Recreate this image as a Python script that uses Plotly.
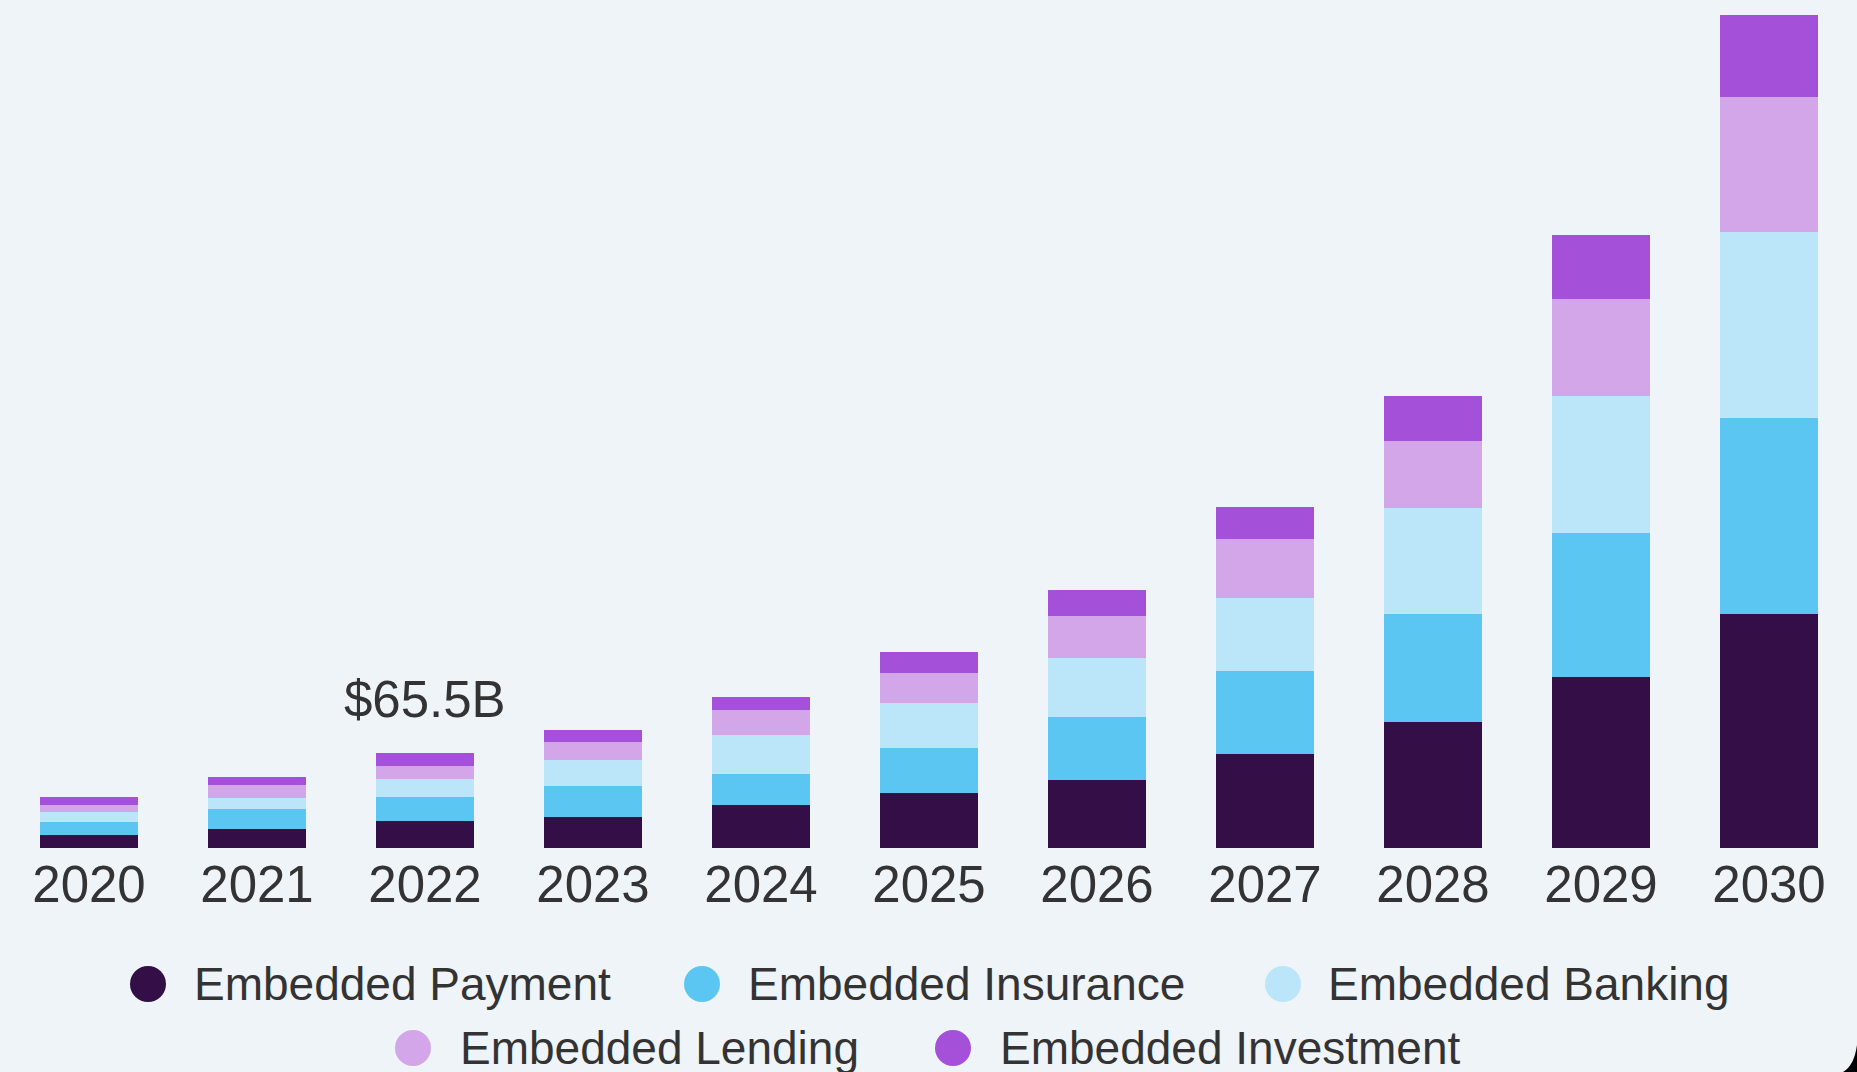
import plotly.graph_objects as go

years = ["2020", "2021", "2022", "2023", "2024", "2025", "2026", "2027", "2028", "2029", "2030"]
series_names = ["Embedded Payment", "Embedded Insurance", "Embedded Banking",
                "Embedded Lending", "Embedded Investment"]
payment = [8.7, 13.3, 18.4, 21.4, 29.6, 37.9, 47.2, 64.8, 86.9, 117.9, 161.3]
insurance = [9.2, 13.8, 16.8, 21.6, 21.6, 31.0, 43.4, 57.2, 74.5, 99.3, 135.1]
banking = [6.9, 7.6, 12.1, 17.4, 26.4, 31.0, 40.7, 50.3, 73.1, 94.5, 128.2]
lending = [5.0, 9.0, 9.2, 12.7, 17.4, 20.7, 29.0, 40.7, 46.2, 66.9, 93.1]
investment = [5.7, 5.3, 9.0, 8.5, 9.2, 14.9, 17.9, 22.1, 31.0, 44.1, 56.5]
colors = ["#330E47", "#5BC6F2", "#BBE6FA", "#D3A6EA", "#A450D8"]
callout_year = "2022"
callout_text = "$65.5B"

BG = "#EFF4F9"
TXT = "#333333"
FONT = "Liberation Sans, Arial, sans-serif"

all_series = [payment, insurance, banking, lending, investment]

fig = go.Figure()
for name, vals, col in zip(series_names, all_series, colors):
    fig.add_trace(go.Bar(x=years, y=vals, name=name, marker=dict(color=col, line=dict(width=0)),
                         showlegend=False))

# callout annotation above 2022 bar (category index avoids numeric-string ambiguity)
idx = years.index(callout_year)
total = sum(s[idx] for s in all_series)
fig.add_annotation(x=idx, y=total, text=callout_text, showarrow=False,
                   yanchor="middle", yshift=54, font=dict(size=51, color=TXT, family=FONT))

# layout geometry (pixels)
W_PX, H_PX = 1857, 1072
ML, MR, MT, MB = 5, 4, 7, 224
plot_w = W_PX - ML - MR
plot_h = H_PX - MT - MB


def xp(px):
    return (px - ML) / plot_w


def yp(py):
    return (H_PX - MB - py) / plot_h


# custom legend with large circular markers
legend_rows_y = [984, 1048]
legend_items = [  # (series index, row, circle center x, text start x)
    (0, 0, 148, 192),
    (1, 0, 702, 746),
    (2, 0, 1283, 1326),
    (3, 1, 413, 458),
    (4, 1, 953, 998),
]
for si, row, cx, tx in legend_items:
    ry = legend_rows_y[row]
    fig.add_shape(type="circle", xref="paper", yref="paper",
                  xsizemode="pixel", ysizemode="pixel",
                  xanchor=xp(cx), yanchor=yp(ry),
                  x0=-18, x1=18, y0=-18, y1=18,
                  fillcolor=colors[si], line=dict(width=0))
    fig.add_annotation(xref="paper", yref="paper", x=xp(tx), y=yp(ry),
                       xanchor="left", yanchor="middle", showarrow=False,
                       text=series_names[si], font=dict(size=46, color=TXT, family=FONT))

# dark rounded-corner remnant at the bottom-right edge of the original screenshot
fig.add_shape(type="path", xref="paper", yref="paper",
              xsizemode="pixel", ysizemode="pixel",
              xanchor=xp(W_PX), yanchor=yp(H_PX),
              path="M 0,0 L 0,27 Q -3,6 -14,0 Z",
              fillcolor="#000000", line=dict(width=0))

fig.update_layout(
    barmode="stack",
    bargap=0.42,
    width=W_PX, height=H_PX,
    margin=dict(l=ML, r=MR, t=MT, b=MB, autoexpand=False),
    paper_bgcolor=BG, plot_bgcolor=BG,
    font=dict(family=FONT, color=TXT),
    showlegend=False,
)
fig.update_xaxes(type="category", range=[-0.5, len(years) - 0.5],
                 showgrid=False, showline=False, zeroline=False, ticks="",
                 automargin=False,
                 tickfont=dict(size=51, color=TXT, family=FONT), ticklabelstandoff=2)
fig.update_yaxes(range=[0, 580], visible=False, showgrid=False, zeroline=False, automargin=False)

fig.write_html("out.html")
